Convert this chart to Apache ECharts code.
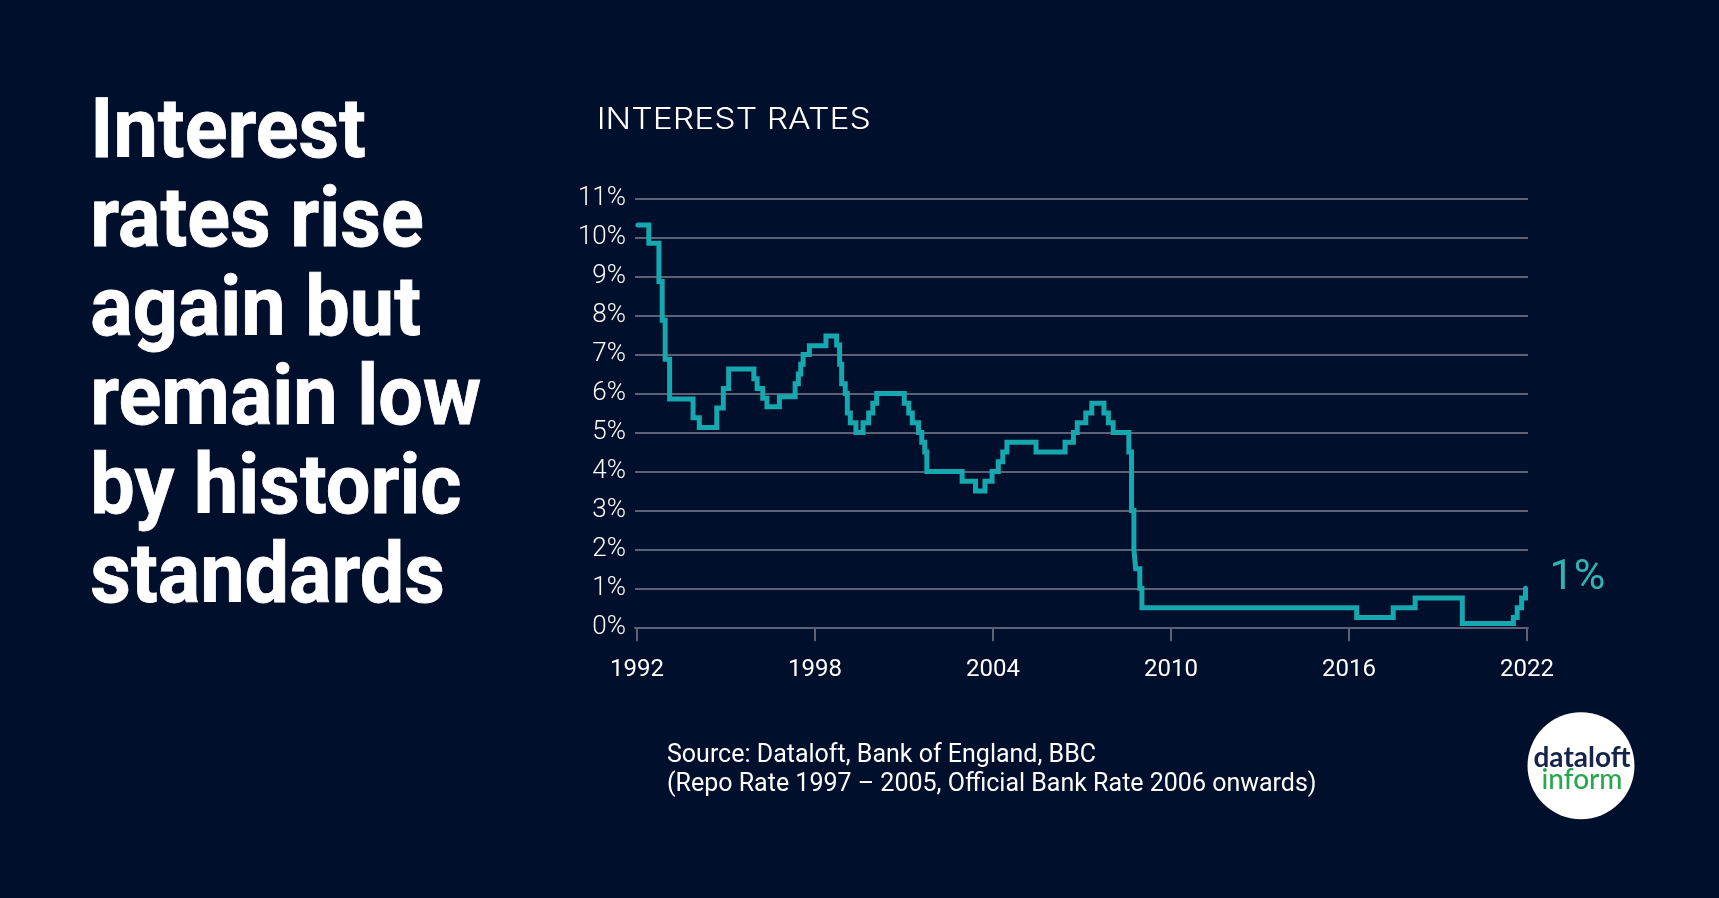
<!DOCTYPE html>
<html>
<head>
<meta charset="utf-8">
<title>Interest rates</title>
<script src="https://cdn.jsdelivr.net/npm/echarts@6/dist/echarts.min.js"></script>
<style>
  html, body { margin: 0; padding: 0; background: #000f2b; }
  #chart { width: 1719px; height: 898px; }
</style>
</head>
<body>
<div id="chart"></div>
<script>
const headline = 'Interest\nrates rise\nagain but\nremain low\nby historic\nstandards';
const chartTitle = 'INTEREST RATES';
const sourceText = 'Source: Dataloft, Bank of England, BBC\n(Repo Rate 1997 \u2013 2005, Official Bank Rate 2006 onwards)';
const yearTicks = [1992, 1998, 2004, 2010, 2016, 2022];

// year each rate took effect
const rateYears = [
  1992.03, 1992.40, 1992.74, 1992.85, 1992.95, 1993.10, 1993.89, 1994.10, 1994.69, 1994.91,
  1995.09, 1995.94, 1996.05, 1996.24, 1996.38, 1996.80, 1997.33, 1997.44, 1997.52, 1997.60,
  1997.81, 1998.37, 1998.73, 1998.83, 1998.90, 1999.02, 1999.09, 1999.19, 1999.38, 1999.62,
  1999.81, 1999.95, 2000.08, 2001.01, 2001.16, 2001.28, 2001.49, 2001.60, 2001.70, 2001.77,
  2002.96, 2003.41, 2003.73, 2003.97, 2004.18, 2004.33, 2004.47, 2005.45, 2006.43, 2006.71,
  2006.84, 2007.13, 2007.33, 2007.74, 2007.89, 2008.05, 2008.58, 2008.67, 2008.75, 2008.81,
  2008.95, 2009.02, 2016.26, 2017.49, 2018.23, 2019.82, 2021.54, 2021.67, 2021.82, 2021.95
];
const rateValues = [
  10.33, 9.86, 8.88, 7.88, 6.88, 5.86, 5.38, 5.13, 5.63, 6.13,
  6.63, 6.38, 6.13, 5.88, 5.66, 5.92, 6.25, 6.5, 6.75, 7,
  7.23, 7.48, 7.25, 6.75, 6.25, 6, 5.5, 5.25, 5, 5.25,
  5.5, 5.75, 6, 5.75, 5.5, 5.25, 5, 4.75, 4.5, 4,
  3.75, 3.5, 3.75, 4, 4.25, 4.5, 4.75, 4.5, 4.75, 5,
  5.25, 5.5, 5.75, 5.5, 5.25, 5, 4.5, 3, 2, 1.5,
  1, 0.5, 0.25, 0.5, 0.75, 0.1, 0.25, 0.5, 0.75, 1
];

const BG = '#000f2b';
const GRID = '#5c6175';
const TEAL = '#17a7ae';

const chart = echarts.init(document.getElementById('chart'));

chart.setOption({
  backgroundColor: BG,
  animation: false,
  title: [
    {
      text: sourceText, left: 662, top: 736,
      textStyle: { color: '#fff', fontFamily: 'Roboto', fontWeight: 400, fontSize: 25, lineHeight: 29 }
    }
  ],
  grid: { left: 635, top: 198.8, width: 893, height: 428.5, containLabel: false },
  xAxis: {
    type: 'value',
    min: 1991.933,
    max: 2022.034,
    splitLine: { show: false },
    axisLine: { show: true, lineStyle: { color: GRID, width: 2 } },
    axisTick: { show: true, length: 14, customValues: yearTicks, lineStyle: { color: GRID, width: 2 } },
    axisLabel: {
      customValues: yearTicks, margin: 31, formatter: v => String(v),
      color: '#fff', fontFamily: 'Roboto', fontSize: 24
    }
  },
  yAxis: {
    type: 'value',
    min: 0,
    max: 11,
    interval: 1,
    axisLine: { show: false },
    axisTick: { show: false },
    splitLine: { lineStyle: { color: GRID, width: 2 } },
    axisLabel: {
      margin: 9, formatter: '{value}%', padding: [2, 0, 0, 0],
      color: '#fff', fontFamily: 'Roboto', fontWeight: 300, fontSize: 26
    }
  },
  series: [{
    type: 'line',
    step: 'end',
    data: rateYears.map((y, i) => [y, rateValues[i]]),
    showSymbol: false,
    clip: false,
    lineStyle: { color: TEAL, width: 5, cap: 'round', join: 'miter' },
    endLabel: {
      show: true,
      formatter: p => p.value[1] + '%',
      offset: [16, -10],
      color: '#2fb3b3',
      fontFamily: 'Roboto',
      fontWeight: 400,
      fontSize: 43
    }
  }],
  graphic: [
    {
      type: 'text', x: 90.3, y: 92, scaleX: 0.954,
      style: { text: headline, fill: '#fff', stroke: '#fff', lineWidth: 0.8, font: '700 83px Roboto', lineHeight: 89, verticalAlign: 'top' }
    },
    {
      type: 'text', x: 596.7, y: 105, scaleX: 1.126,
      style: { text: chartTitle, fill: '#fff', font: '300 30px Inter', verticalAlign: 'top' }
    },
    { type: 'circle', shape: { cx: 1581, cy: 765.7, r: 53.5 }, style: { fill: '#fff' } },
    {
      type: 'text', x: 1582, y: 772,
      style: { text: 'dataloft', fill: '#14244a', font: '700 28px Lato', align: 'center', verticalAlign: 'bottom' }
    },
    {
      type: 'text', x: 1582, y: 793.5,
      style: { text: 'inform', fill: '#28a84e', font: '500 28px Lato', align: 'center', verticalAlign: 'bottom' }
    }
  ]
});
</script>
</body>
</html>
